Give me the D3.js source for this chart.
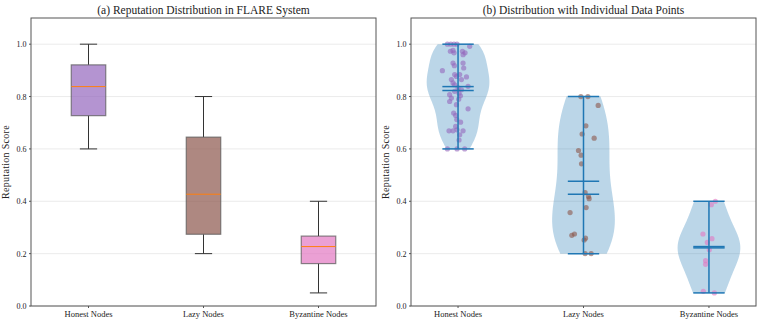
<!DOCTYPE html>
<html>
<head>
<meta charset="utf-8">
<script src="https://cdn.jsdelivr.net/npm/d3@7"></script>
<style>
  body { margin: 0; background: #fff; }
  text { font-family: "Liberation Serif", "DejaVu Serif", serif; fill: #222; }
</style>
</head>
<body>
<div id="chart"></div>
<script>
const categories = ["Honest Nodes", "Lazy Nodes", "Byzantine Nodes"];
const yTicks = [0.0, 0.2, 0.4, 0.6, 0.8, 1.0];

// box plot stats
const whiskerLow  = [0.60, 0.20, 0.05];
const boxQ1       = [0.727, 0.274, 0.162];
const boxMedian   = [0.838, 0.427, 0.227];
const boxQ3       = [0.921, 0.645, 0.267];
const whiskerHigh = [1.00, 0.80, 0.40];

// mean / median markers in panel (b)
const violinMean   = [0.823, 0.476, 0.222];
const violinMedian = [0.838, 0.427, 0.227];

// individual points: [jitter offset, score]
const honestPoints = [
  [-0.085, 1.0], [-0.058, 1.0], [-0.032, 1.0], [-0.008, 1.0],
  [0.093, 0.992], [-0.061, 0.973], [-0.04, 0.976], [0.035, 0.973], [0.04, 0.96],
  [-0.032, 0.967], [-0.027, 0.82], [0.056, 0.967], [-0.125, 0.899], [-0.04, 0.928],
  [-0.029, 0.918], [0.04, 0.928], [0.045, 0.909], [-0.027, 0.884], [-0.013, 0.877],
  [0.067, 0.875], [0.013, 0.884], [0.027, 0.865], [-0.053, 0.865], [-0.04, 0.852],
  [-0.027, 0.845], [0.08, 0.839], [0.0, 0.833], [0.027, 0.826], [-0.067, 0.807],
  [-0.053, 0.794], [0.008, 0.813], [0.019, 0.803], [-0.067, 0.781], [-0.013, 0.769],
  [0.08, 0.753], [-0.035, 0.737], [-0.019, 0.728], [-0.019, 0.686], [-0.008, 0.673],
  [-0.072, 0.669], [-0.04, 0.669], [0.04, 0.669], [0.013, 0.654], [0.008, 0.634],
  [-0.085, 0.6], [-0.008, 0.6], [0.053, 0.6],
  [0.005, 0.79], [-0.01, 0.712], [0.02, 0.702]
];
const lazyPoints = [
  [-0.021, 0.8], [0.035, 0.8], [0.117, 0.766], [0.019, 0.688], [-0.011, 0.657],
  [0.085, 0.641], [-0.04, 0.594], [-0.019, 0.576], [-0.016, 0.543], [0.013, 0.433],
  [0.04, 0.418], [0.045, 0.41], [-0.107, 0.357], [0.021, 0.376], [-0.093, 0.27],
  [-0.072, 0.275], [0.016, 0.259], [0.005, 0.252], [0.013, 0.2], [0.061, 0.2]
];
const byzantinePoints = [
  [0.051, 0.4], [0.019, 0.387], [-0.048, 0.275], [0.024, 0.257], [-0.013, 0.243],
  [0.003, 0.215], [-0.027, 0.173], [-0.027, 0.159], [-0.045, 0.056], [0.043, 0.05]
];
const pointSets = [honestPoints, lazyPoints, byzantinePoints];
const boxColors = ["#9467bd", "#8c564b", "#e377c2"];

const W = 761, H = 325;
const plotTop = 18, plotBottom = 306;
const panels = [
  { x0: 31, x1: 376, domain: [0.5, 3.5], title: "(a) Reputation Distribution in FLARE System" },
  { x0: 411, x1: 756, domain: [0.625, 3.375], title: "(b) Distribution with Individual Data Points" }
];

const svg = d3.select("#chart").append("svg")
  .attr("width", W)
  .attr("height", H);

const y = d3.scaleLinear().domain([0, 1.1]).range([plotBottom, plotTop]);

function drawFrame(p) {
  const x = d3.scaleLinear().domain(p.domain).range([p.x0, p.x1]);
  const g = svg.append("g");

  // grid
  g.selectAll(".grid")
    .data(yTicks)
    .join("line")
    .attr("x1", p.x0).attr("x2", p.x1)
    .attr("y1", d => y(d)).attr("y2", d => y(d))
    .attr("stroke", "#e6e6e6")
    .attr("stroke-width", 0.8);

  // y ticks
  g.selectAll(".ytick")
    .data(yTicks)
    .join("line")
    .attr("x1", p.x0 - 2).attr("x2", p.x0)
    .attr("y1", d => y(d)).attr("y2", d => y(d))
    .attr("stroke", "#555");
  g.selectAll(".ylab")
    .data(yTicks)
    .join("text")
    .attr("x", p.x0 - 4.5)
    .attr("y", d => y(d) + 3)
    .attr("text-anchor", "end")
    .attr("font-size", 8)
    .text(d => d.toFixed(1));

  // x ticks
  g.selectAll(".xtick")
    .data(categories)
    .join("line")
    .attr("x1", (d, i) => x(i + 1)).attr("x2", (d, i) => x(i + 1))
    .attr("y1", plotBottom).attr("y2", plotBottom + 2)
    .attr("stroke", "#555");
  g.selectAll(".xlab")
    .data(categories)
    .join("text")
    .attr("x", (d, i) => x(i + 1))
    .attr("y", plotBottom + 11)
    .attr("text-anchor", "middle")
    .attr("font-size", 8.5)
    .text(d => d);

  // axis label + title
  g.append("text")
    .attr("transform", `translate(${p.x0 - 22},${(plotTop + plotBottom) / 2}) rotate(-90)`)
    .attr("text-anchor", "middle")
    .attr("font-size", 10)
    .attr("letter-spacing", 0.3)
    .text("Reputation Score");
  g.append("text")
    .attr("x", (p.x0 + p.x1) / 2)
    .attr("y", plotTop - 4.5)
    .attr("text-anchor", "middle")
    .attr("font-size", 11.5)
    .text(p.title);

  return { x, g };
}

function drawSpines(p) {
  svg.append("rect")
    .attr("x", p.x0).attr("y", plotTop)
    .attr("width", p.x1 - p.x0).attr("height", plotBottom - plotTop)
    .attr("fill", "none")
    .attr("stroke", "#555")
    .attr("stroke-width", 1);
}

// ---- panel (a): box plots
const A = drawFrame(panels[0]);
{
  const { x, g } = A;
  const bw = 0.3;
  categories.forEach((c, i) => {
    const cx = x(i + 1);
    const half = (x(bw) - x(0)) / 2;
    // whiskers
    g.append("line")
      .attr("x1", cx).attr("x2", cx)
      .attr("y1", y(whiskerHigh[i])).attr("y2", y(boxQ3[i]))
      .attr("stroke", "#333");
    g.append("line")
      .attr("x1", cx).attr("x2", cx)
      .attr("y1", y(boxQ1[i])).attr("y2", y(whiskerLow[i]))
      .attr("stroke", "#333");
    // caps
    [whiskerLow[i], whiskerHigh[i]].forEach(v => {
      g.append("line")
        .attr("x1", cx - half / 2).attr("x2", cx + half / 2)
        .attr("y1", y(v)).attr("y2", y(v))
        .attr("stroke", "#333");
    });
    // box
    g.append("rect")
      .attr("x", cx - half)
      .attr("y", y(boxQ3[i]))
      .attr("width", half * 2)
      .attr("height", y(boxQ1[i]) - y(boxQ3[i]))
      .attr("fill", boxColors[i])
      .attr("fill-opacity", 0.7)
      .attr("stroke", "#555")
      .attr("stroke-opacity", 0.7)
      .attr("stroke-width", 1.2);
    // median
    g.append("line")
      .attr("x1", cx - half).attr("x2", cx + half)
      .attr("y1", y(boxMedian[i])).attr("y2", y(boxMedian[i]))
      .attr("stroke", "#ff7f0e")
      .attr("stroke-width", 1);
  });
}
drawSpines(panels[0]);

// ---- panel (b): violins + jittered points
function kde(values) {
  const n = values.length;
  const sd = d3.deviation(values);
  const h = sd * Math.pow(n, -0.2);
  const lo = d3.min(values), hi = d3.max(values);
  const grid = d3.range(100).map(k => lo + (hi - lo) * k / 99);
  return grid.map(v => [v, d3.mean(values, t => Math.exp(-0.5 * ((v - t) / h) ** 2))]);
}

const B = drawFrame(panels[1]);
{
  const { x, g } = B;
  const vw = 0.5;
  pointSets.forEach((pts, i) => {
    const vals = pts.map(d => d[1]);
    const dens = kde(vals);
    const maxD = d3.max(dens, d => d[1]);
    const cx = i + 1;
    const area = d3.area()
      .y(d => y(d[0]))
      .x0(d => x(cx - vw / 2 * d[1] / maxD))
      .x1(d => x(cx + vw / 2 * d[1] / maxD));
    g.append("path")
      .attr("d", area(dens))
      .attr("fill", "#1f77b4")
      .attr("fill-opacity", 0.3);
  });

  pointSets.forEach((pts, i) => {
    g.selectAll(null)
      .data(pts)
      .join("circle")
      .attr("cx", d => x(i + 1 + d[0]))
      .attr("cy", d => y(d[1]))
      .attr("r", 2.6)
      .attr("fill", boxColors[i])
      .attr("fill-opacity", 0.6);
  });

  pointSets.forEach((pts, i) => {
    const vals = pts.map(d => d[1]);
    const cx = i + 1;
    const hw = vw / 4;
    const line = (v) => g.append("line")
      .attr("x1", x(cx - hw)).attr("x2", x(cx + hw))
      .attr("y1", y(v)).attr("y2", y(v))
      .attr("stroke", "#1f77b4")
      .attr("stroke-width", 1.5);
    g.append("line")
      .attr("x1", x(cx)).attr("x2", x(cx))
      .attr("y1", y(d3.min(vals))).attr("y2", y(d3.max(vals)))
      .attr("stroke", "#1f77b4")
      .attr("stroke-width", 1.5);
    line(d3.min(vals));
    line(d3.max(vals));
    line(violinMean[i]);
    line(violinMedian[i]);
  });
}
drawSpines(panels[1]);
</script>
</body>
</html>
